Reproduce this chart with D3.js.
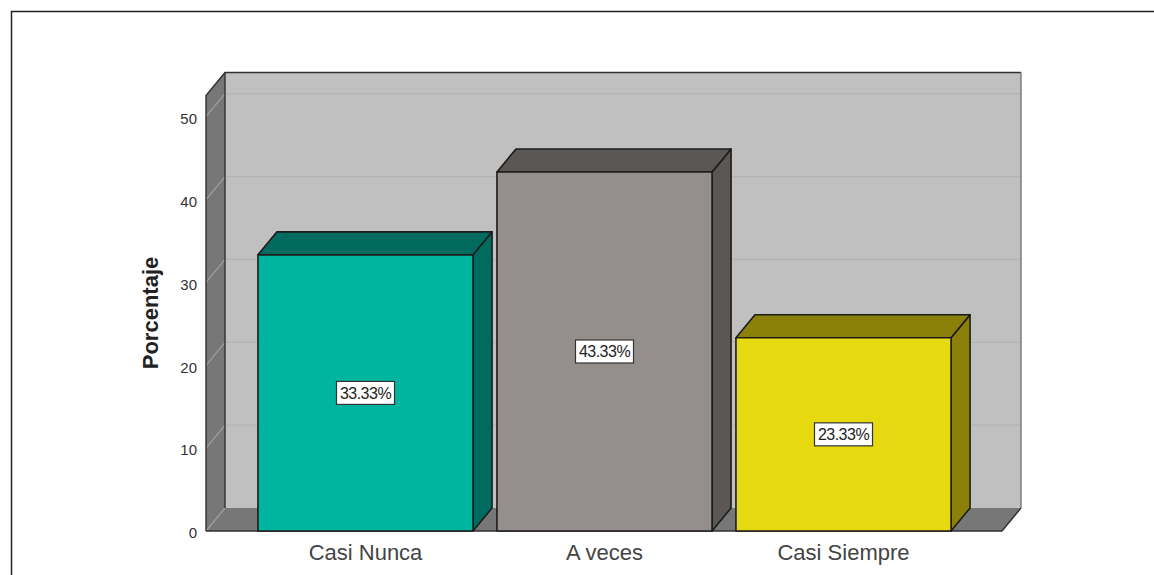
<!DOCTYPE html>
<html>
<head>
<meta charset="utf-8">
<script src="https://cdn.jsdelivr.net/npm/d3@7/dist/d3.min.js"></script>
<style>
html,body{margin:0;padding:0;background:#fff;}
svg{display:block;}
text{font-family:"Liberation Sans",Arial,sans-serif;}
</style>
</head>
<body>
<svg id="chart" width="1154" height="575"></svg>
<script>
// Response shares per category, in percent
const categories = ["Casi Nunca", "A veces", "Casi Siempre"];
const values = [33.33, 43.33, 23.33];
const valueLabels = ["33.33%", "43.33%", "23.33%"];
const yTicks = [0, 10, 20, 30, 40, 50];
const yTitle = "Porcentaje";
const yMax = 52.56;

// Front face, top face and side face colours of each bar
const frontColors = ["#00b5a0", "#948f8d", "#e6d90f"];
const topColors = ["#006b5e", "#5a5755", "#8b810a"];

const svg = d3.select("#chart");

// Pseudo-3D box depth
const depthX = 19, depthY = -23;
const wallLeft = 206, wallRight = 1002;

const y = d3.scaleLinear().domain([0, yMax]).range([531, 95.5]);
const x = d3.scaleBand().domain(categories).range([246, 963])
  .paddingInner(0.1).paddingOuter(0.05);

const poly = pts => pts.map(p => p.join(",")).join(" ");
const edge = "#1c1c1c";

// Outer frame: left and top rules only
svg.append("path")
  .attr("d", "M11.5,575V11.5H1154")
  .attr("fill", "none").attr("stroke", "#222").attr("stroke-width", 1.5);

// Back wall
svg.append("rect")
  .attr("x", wallLeft + depthX).attr("y", y(yMax) + depthY)
  .attr("width", wallRight - wallLeft).attr("height", y(0) - y(yMax))
  .attr("fill", "#c0c0c0").attr("stroke", "none");

// Side wall
svg.append("polygon")
  .attr("points", poly([
    [wallLeft, y(yMax)], [wallLeft + depthX, y(yMax) + depthY],
    [wallLeft + depthX, y(0) + depthY], [wallLeft, y(0)]
  ]))
  .attr("fill", "#777").attr("stroke", "none");

// Floor
svg.append("polygon")
  .attr("points", poly([
    [wallLeft, y(0)], [wallLeft + depthX, y(0) + depthY],
    [wallRight + depthX, y(0) + depthY], [wallRight, y(0)]
  ]))
  .attr("fill", "#777").attr("stroke", "none");

// Gridlines run along the back wall and fold down the side wall
const grid = svg.append("g").attr("fill", "none").attr("stroke-width", 1.2);
yTicks.forEach(t => {
  if (t > 0) {
    grid.append("line")
      .attr("x1", wallLeft + depthX).attr("x2", wallRight + depthX)
      .attr("y1", y(t) + depthY).attr("y2", y(t) + depthY)
      .attr("stroke", "#b4b4b4");
  }
  grid.append("line")
    .attr("x1", wallLeft).attr("x2", wallLeft + depthX)
    .attr("y1", y(t)).attr("y2", y(t) + depthY)
    .attr("stroke", "#a0a0a0");
});

// Wall outlines
const outlines = svg.append("g").attr("fill", "none").attr("stroke-width", 1.4);
outlines.append("path")
  .attr("stroke", "#303030")
  .attr("d", `M${wallLeft},${y(0)}V${y(yMax)}L${wallLeft + depthX},${y(yMax) + depthY}H${wallRight + depthX}`);
outlines.append("path")
  .attr("stroke", "#303030")
  .attr("d", `M${wallLeft + depthX},${y(yMax) + depthY}V${y(0) + depthY}`);
outlines.append("path")
  .attr("stroke", "#777")
  .attr("d", `M${wallRight + depthX},${y(yMax) + depthY}V${y(0) + depthY}`);
outlines.append("path")
  .attr("stroke", "#303030")
  .attr("d", `M${wallRight + depthX},${y(0) + depthY}L${wallRight},${y(0)}H${wallLeft}`);

// Bars: side face, top face, front face
const bars = svg.append("g").selectAll("g").data(categories).join("g");
bars.each(function (c, i) {
  const g = d3.select(this);
  const left = x(c), right = x(c) + x.bandwidth();
  const top = y(values[i]), base = y(0);
  const style = s => s.attr("stroke", edge).attr("stroke-width", 1.6).attr("stroke-linejoin", "round");
  g.append("polygon")
    .attr("points", poly([
      [right, top], [right + depthX, top + depthY],
      [right + depthX, base + depthY], [right, base]
    ]))
    .attr("fill", topColors[i]).call(style);
  g.append("polygon")
    .attr("points", poly([
      [left, top], [left + depthX, top + depthY],
      [right + depthX, top + depthY], [right, top]
    ]))
    .attr("fill", topColors[i]).call(style);
  g.append("rect")
    .attr("x", left).attr("y", top)
    .attr("width", right - left).attr("height", base - top)
    .attr("fill", frontColors[i]).call(style);
});

// Value labels centred on each front face
const labels = svg.append("g").selectAll("g").data(categories).join("g")
  .attr("transform", (c, i) => `translate(${x(c) + x.bandwidth() / 2},${(y(values[i]) + y(0)) / 2})`);
labels.append("rect")
  .attr("x", -29).attr("y", -11.5).attr("width", 58).attr("height", 23)
  .attr("fill", "#fff").attr("stroke", "#333").attr("stroke-width", 1.2);
labels.append("text")
  .attr("text-anchor", "middle").attr("y", 6)
  .attr("font-size", 16).attr("letter-spacing", -0.5).attr("fill", "#222")
  .text((c, i) => valueLabels[i]);

// Value axis labels
const yAxis = d3.axisLeft(y).tickValues(yTicks).tickSize(0).tickPadding(9);
const yG = svg.append("g").attr("transform", `translate(${wallLeft},0)`).call(yAxis);
yG.select(".domain").remove();
yG.selectAll("text").attr("font-size", 15).attr("fill", "#333").attr("y", 2)
  .style("font-family", '"Liberation Sans",Arial,sans-serif');

// Category axis labels
const xAxis = d3.axisBottom(x).tickSize(0).tickPadding(13);
const xG = svg.append("g").attr("transform", `translate(0,${y(0)})`).call(xAxis);
xG.select(".domain").remove();
xG.selectAll("text").attr("font-size", 22).attr("fill", "#444")
  .style("font-family", '"Liberation Sans",Arial,sans-serif');

// Value axis title
svg.append("text")
  .attr("transform", "translate(158,313) rotate(-90)")
  .attr("text-anchor", "middle")
  .attr("font-size", 22).attr("font-weight", "bold").attr("fill", "#222")
  .text(yTitle);
</script>
</body>
</html>
